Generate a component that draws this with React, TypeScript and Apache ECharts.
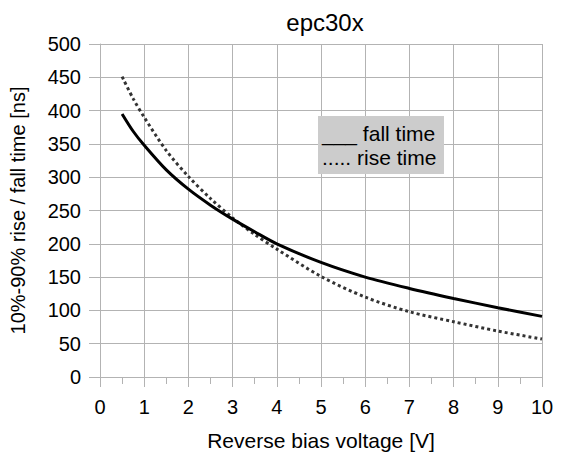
import React, { useEffect, useRef } from "react";
import * as echarts from "echarts";

const voltages = [0.5, 0.75, 1, 1.5, 2, 2.5, 3, 3.5, 4, 5, 6, 7, 8, 9, 10];
const fallTime = [395, 369, 348, 311, 282, 258, 237, 218, 200, 172, 150, 133, 118, 104, 91];
const riseTime = [451, 418, 390, 340, 301, 268, 239, 214, 192, 151, 120, 98, 83, 69, 57];
const titleText = "epc30x";
const xName = "Reverse bias voltage [V]";
const yName = "10%-90% rise / fall time [ns]";
const legendFall = "___ fall time";
const legendRise = "..... rise time";

const FONT = "'Liberation Sans', Arial, sans-serif";
const GRID = "#b3b3b3";

export default function App() {
  const ref = useRef<HTMLDivElement>(null);
  useEffect(() => {
    if (!ref.current) return;
    const chart = echarts.init(ref.current, undefined, { renderer: "svg" });
    chart.setOption({
      animation: false,
      backgroundColor: "#ffffff",
      title: {
        text: titleText,
        left: 320,
        textAlign: "center",
        top: 5,
        textStyle: { fontFamily: FONT, fontSize: 24, fontWeight: "normal", color: "#000" },
      },
      grid: { left: 99, right: 20, top: 44, bottom: 78, containLabel: false },
      xAxis: {
        type: "value",
        min: 0,
        max: 10,
        interval: 1,
        name: xName,
        nameLocation: "middle",
        nameGap: 53,
        nameTextStyle: { fontFamily: FONT, fontSize: 21, color: "#000" },
        axisLine: { show: true, lineStyle: { color: GRID, width: 1 } },
        axisTick: { show: true, length: 10, lineStyle: { color: GRID } },
        minorTick: { show: true, splitNumber: 2, length: 7, lineStyle: { color: GRID } },
        splitLine: { show: true, lineStyle: { color: GRID, width: 1 } },
        axisLabel: { fontFamily: FONT, fontSize: 20, color: "#000", margin: 20 },
      },
      yAxis: {
        type: "value",
        min: 0,
        max: 500,
        interval: 50,
        name: yName,
        nameLocation: "middle",
        nameGap: 72,
        nameRotate: 90,
        nameTextStyle: { fontFamily: FONT, fontSize: 20, color: "#000" },
        axisLine: { show: true, lineStyle: { color: GRID, width: 1 } },
        axisTick: { show: true, length: 11, lineStyle: { color: GRID } },
        splitLine: { show: true, lineStyle: { color: GRID, width: 1 } },
        axisLabel: { fontFamily: FONT, fontSize: 20, color: "#000", margin: 19 },
      },
      series: [
        {
          name: "fall time",
          type: "line",
          data: voltages.map((v, i) => [v, fallTime[i]]),
          smooth: 0.3,
          showSymbol: false,
          lineStyle: { color: "#000000", width: 3 },
          z: 3,
        },
        {
          name: "rise time",
          type: "line",
          data: voltages.map((v, i) => [v, riseTime[i]]),
          smooth: 0.3,
          showSymbol: false,
          lineStyle: { color: "#333333", width: 3, type: [3, 3] },
          z: 2,
        },
      ],
      graphic: [
        {
          type: "rect",
          shape: { x: 318, y: 116, width: 126, height: 58 },
          style: { fill: "#cccccc" },
          z: 10,
        },
        {
          type: "text",
          x: 322,
          y: 133,
          style: { text: legendFall, font: `21px ${FONT}`, fill: "#000", textVerticalAlign: "middle" },
          z: 11,
        },
        {
          type: "text",
          x: 322,
          y: 157,
          style: { text: legendRise, font: `21px ${FONT}`, fill: "#000", textVerticalAlign: "middle" },
          z: 11,
        },
      ],
    });
    return () => chart.dispose();
  }, []);
  return <div ref={ref} style={{ width: 562, height: 456, position: "absolute", left: 0, top: 0 }} />;
}
